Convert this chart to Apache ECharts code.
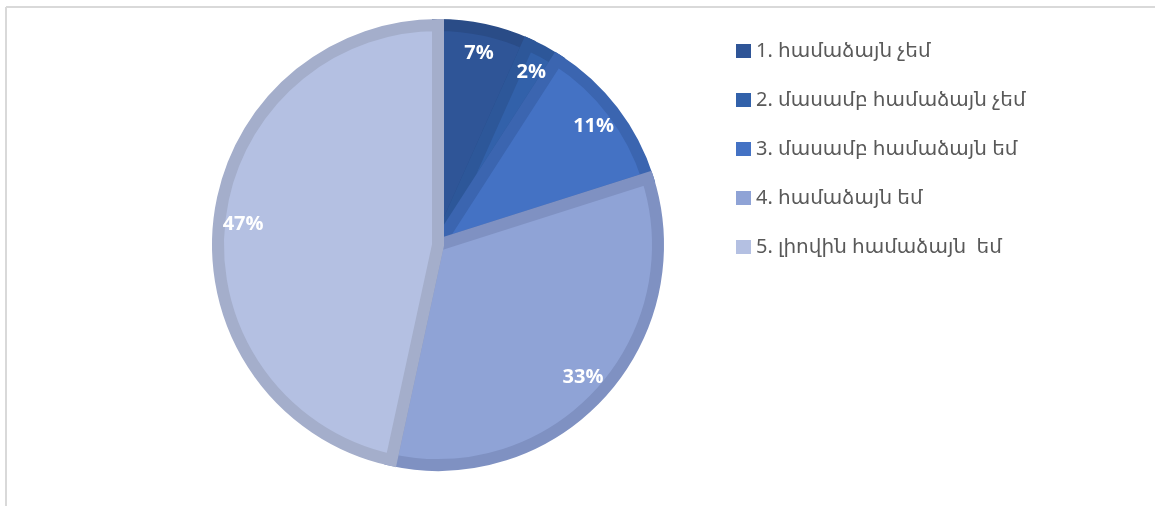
<!DOCTYPE html>
<html>
<head>
<meta charset="utf-8">
<script src="https://cdn.jsdelivr.net/npm/echarts@6/dist/echarts.min.js"></script>
<style>
  html, body { margin: 0; padding: 0; background: #fff; }
  #chart { width: 1155px; height: 506px; }
</style>
</head>
<body>
<div id="chart"></div>
<script>
// answer categories and their shares (percent)
const categories = [
  "1. համաձայն չեմ",
  "2. մասամբ համաձայն չեմ",
  "3. մասամբ համաձայն եմ",
  "4. համաձայն եմ",
  "5. լիովին համաձայն  եմ"
];
const shares = [6.7, 2.4, 11.0, 33.3, 46.6];
const fills = ["#2f5597", "#3261aa", "#4472c4", "#8fa3d6", "#b4c0e2"];
const borders = ["#2a4c87", "#2d5799", "#3b65b0", "#7f91c2", "#a4aecb"];

const chart = echarts.init(document.getElementById("chart"));

const pieData = categories.map((name, i) => ({
  name: name,
  value: shares[i],
  itemStyle: { color: fills[i], borderColor: borders[i] }
}));

chart.setOption({
  animation: false,
  backgroundColor: "#fff",
  legend: {
    orient: "vertical",
    left: 736,
    top: 41,
    padding: 0,
    icon: "rect",
    itemWidth: 15,
    itemHeight: 14,
    itemGap: 29,
    data: categories,
    itemStyle: { borderWidth: 0 },
    textStyle: {
      fontFamily: "Noto Sans, DejaVu Sans",
      fontSize: 20,
      lineHeight: 20,
      color: "#595959"
    }
  },
  graphic: [
    { type: "line", shape: { x1: 6, y1: 7, x2: 1155, y2: 7 }, style: { stroke: "#d9d9d9", lineWidth: 2 } },
    { type: "line", shape: { x1: 6, y1: 7, x2: 6, y2: 506 }, style: { stroke: "#d9d9d9", lineWidth: 2 } }
  ],
  series: [
    {
      type: "pie",
      center: [438, 245],
      radius: 220,
      startAngle: 90,
      clockwise: true,
      silent: true,
      label: { show: false },
      labelLine: { show: false },
      itemStyle: { borderWidth: 12, borderJoin: "miter" },
      data: pieData
    },
    {
      // transparent ring used only to place the percentage labels
      type: "pie",
      center: [438, 245],
      radius: [162, 224],
      startAngle: 90,
      clockwise: true,
      silent: true,
      legendHoverLink: false,
      itemStyle: { color: "transparent", borderWidth: 0 },
      labelLine: { show: false },
      label: {
        show: true,
        position: "inside",
        formatter: (p) => Math.round(p.value) + "%",
        color: "#fff",
        fontWeight: "bold",
        fontSize: 20,
        fontFamily: "Open Sans, Noto Sans"
      },
      data: categories.map((name, i) => ({ name: name, value: shares[i] }))
    }
  ]
});
</script>
</body>
</html>
